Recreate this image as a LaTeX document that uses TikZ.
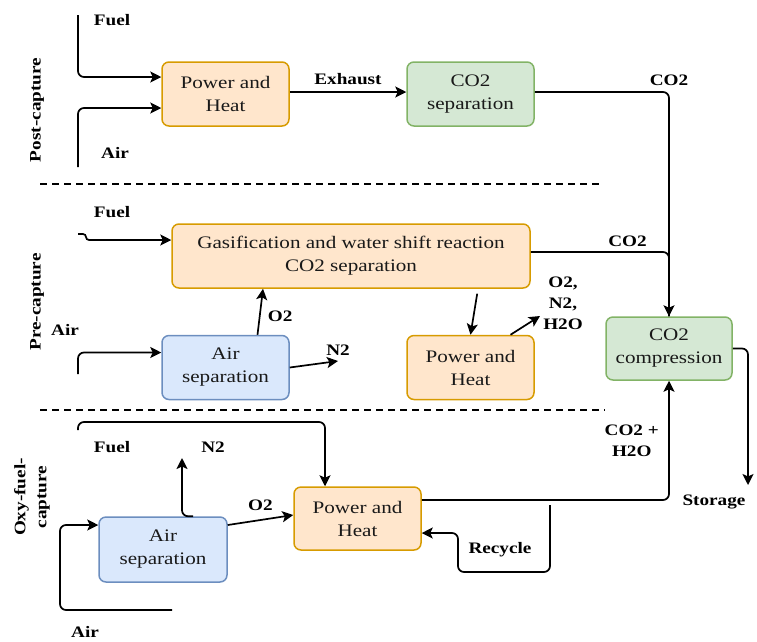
\documentclass[tikz,border=0pt]{standalone}
\usepackage{fontspec}
\setmainfont{Liberation Serif}[FakeStretch=1.2]
\usepackage{tikz}
\usetikzlibrary{arrows.meta}
\definecolor{heatFill}{HTML}{FFE6CC}
\definecolor{heatLine}{HTML}{D79B00}
\definecolor{sepFill}{HTML}{D5E8D4}
\definecolor{sepLine}{HTML}{82B366}
\definecolor{airFill}{HTML}{DAE8FC}
\definecolor{airLine}{HTML}{6C8EBF}

\begin{document}
\begin{tikzpicture}[x=1pt, y=-1pt,
    unit/.style={draw, rounded corners=7pt, line width=1.5pt, minimum width=127pt, minimum height=64pt,
      align=center, inner sep=2pt, text=black!90, font=\fontsize{17.6}{23}\selectfont},
    heat/.style={unit, fill=heatFill, draw=heatLine},
    capt/.style={unit, fill=sepFill, draw=sepLine},
    airsep/.style={unit, fill=airFill, draw=airLine},
    pipe/.style={line width=1.7pt, rounded corners=6pt},
    flow/.style={pipe, -{Stealth[length=11pt, width=11pt, inset=2.5pt]}},
    lbl/.style={font=\bfseries\fontsize{16}{21}\selectfont, align=center},
    divider/.style={line width=1.8pt, dash pattern=on 7pt off 5pt}]
  \useasboundingbox (0,0) rectangle (757,641);

  % post-capture
  \node[lbl, rotate=90] (post) at (37,110) {Post-capture};
  \node[heat] (ph1) at (225.5,94) {Power and\\Heat};
  \node[capt] (sep1) at (470.5,94) {CO2\\separation};
  \coordinate (fuel1) at (78,15);
  \coordinate (air1) at (78,167);
  \node[lbl] (fuel1txt) at (112,20) {Fuel};
  \node[lbl] (air1txt) at (115,153) {Air};
  \draw[flow] (fuel1) |- ([yshift=17pt]ph1.west);
  \draw[flow] (air1) |- ([yshift=-14pt]ph1.west);
  \draw[flow] ([yshift=2pt]ph1.east) -- node[lbl, above=3pt] {Exhaust} ([yshift=2pt]sep1.west);

  % compression and storage
  \node[capt, minimum width=126pt, minimum height=63pt] (comp) at (669,348.5) {CO2\\compression};
  \coordinate (store) at (748,485);
  \node[lbl] (storetxt) at (714,502) {Storage};
  \draw[flow] ([yshift=2pt]sep1.east) -| node[pos=0.5, lbl, above=2pt] {CO2} (comp.north);
  \draw[flow] (comp.east) -| (store);

  \draw[divider] (40,184) -- (600,184);

  % pre-capture
  \node[lbl, rotate=90] (pre) at (37,302) {Pre-capture};
  \node[heat, minimum width=358pt] (gas) at (351,256) {Gasification and water shift reaction\\CO2 separation};
  \node[airsep] (asep2) at (225.5,367.5) {Air\\separation};
  \node[heat] (ph2) at (470.5,367.5) {Power and\\Heat};
  \coordinate (fuel2) at (78,234);
  \coordinate (air2) at (78,374);
  \coordinate (n2b) at (338,361);
  \coordinate (out2) at (540,316);
  \node[lbl] (fuel2txt) at (112,212) {Fuel};
  \node[lbl] (air2txt) at (65,330) {Air};
  \draw[flow, rounded corners=3pt] (fuel2) -- ++(8,0) -- ++(0,6) -- ([yshift=16pt]gas.west);
  \draw[flow] (air2) |- ([yshift=15pt]asep2.west);
  \draw[flow] ([xshift=32pt]asep2.north) -- node[lbl, right=4pt, pos=0.4] {O2} ([xshift=-88pt]gas.south);
  \draw[flow] (asep2.east) -- (n2b) node[lbl, above=1pt] {N2};
  \draw[pipe] ([yshift=4pt]gas.east) -| node[pos=0.35, lbl, above=1pt] {CO2} (comp.north);
  \draw[flow, shorten <=5pt] ([xshift=127pt]gas.south) -- (ph2.north);
  \draw[flow] ([xshift=40pt]ph2.north) -- (out2);
  \node[lbl] (out2txt) at (563,303) {O2,\\N2,\\H2O};

  \draw[divider] (40,410) -- (605,410);

  % oxy-fuel-capture
  \node[lbl, rotate=90] (oxy) at (32,497) {Oxy-fuel-\\capture};
  \node[airsep, minimum width=128pt, minimum height=65pt] (asep3) at (163,549.5) {Air\\separation};
  \node[heat, minimum height=63pt] (ph3) at (357.5,518.5) {Power and\\Heat};
  \coordinate (fuel3) at (78,430);
  \coordinate (air3) at (172,610);
  \coordinate (n2c) at (182,458);
  \coordinate (rec) at (550,505);
  \node[lbl] (fuel3txt) at (112,447) {Fuel};
  \node[lbl] (n2ctxt) at (213,447) {N2};
  \node[lbl] (air3txt) at (85,632) {Air};
  \draw[flow] (fuel3) |- ++(247,-8) -- ([xshift=-32.5pt]ph3.north);
  \draw[flow] (air3) -- ++(-112,0) |- ([yshift=24.5pt]asep3.west);
  \draw[flow] ([xshift=30pt]asep3.north) -| (n2c);
  \draw[flow] ([yshift=24.5pt]asep3.east) -- node[lbl, above=5pt] {O2} ([yshift=3.5pt]ph3.west);
  \draw[flow] ([yshift=18.5pt]ph3.east) -| node[pos=0.75, lbl, left=6pt] {CO2 +\\H2O} (comp.south);
  \draw[flow] (rec) |- ++(-92,67) |- ([yshift=-14.5pt]ph3.east);
  \node[lbl] (rectxt) at (500,550) {Recycle};
\end{tikzpicture}
\end{document}
